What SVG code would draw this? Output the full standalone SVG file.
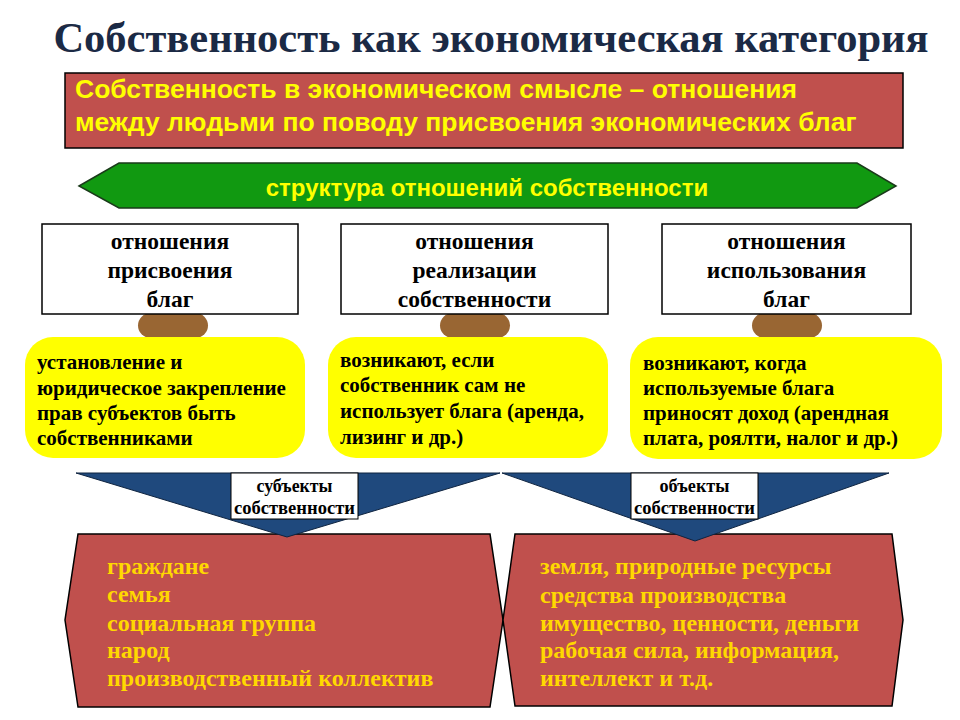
<svg xmlns="http://www.w3.org/2000/svg" width="960" height="720" viewBox="0 0 960 720">
<style>
.title{font-family:"Liberation Serif","Times New Roman",serif;font-weight:bold;font-size:42.5px;fill:#1B2A45;text-anchor:middle}
.hdr{font-family:"Liberation Sans",Arial,sans-serif;font-weight:bold;font-size:26.5px;fill:#FFFF00}
.grn{font-family:"Liberation Sans",Arial,sans-serif;font-weight:bold;font-size:24px;fill:#FFFF00}
.wb{fill:#FFFFFF;stroke:#000;stroke-width:1.5}
.wt{font-family:"Liberation Serif","Times New Roman",serif;font-weight:bold;font-size:23.5px;fill:#000;text-anchor:middle}
.br{fill:#996633}
.yb{fill:#FFFF00}
.yt{font-family:"Liberation Serif","Times New Roman",serif;font-weight:bold;font-size:21px;fill:#000}
.red{fill:#C0504D;stroke:#000;stroke-width:1.5}
.bt{font-family:"Liberation Serif","Times New Roman",serif;font-weight:bold;font-size:24px;fill:#FFD800}
.blue{fill:#1F497D;stroke:#0F2440;stroke-width:1}
.lb{fill:#FFFFFF;stroke:#000;stroke-width:1}
.lt{font-family:"Liberation Serif","Times New Roman",serif;font-weight:bold;font-size:19px;fill:#000;text-anchor:middle}
</style>
<rect width="960" height="720" fill="#FFFFFF"/>
<g id="title"><text class="title" x="491" y="52">Собственность как экономическая категория</text></g>
<g id="definition">
<rect x="65" y="73" width="838" height="75" class="red" stroke-width="2"/>
<text class="hdr" x="75" y="98">Собственность в экономическом смысле – отношения</text>
<text class="hdr" x="75" y="131">между людьми по поводу присвоения экономических благ</text>
</g>
<g id="structure">
<polygon points="79,186 119,163 857,163 896,186 857,208 119,208" fill="#119911" stroke="#1A3A1A" stroke-width="1.5"/>
<text class="grn" x="487" y="196" text-anchor="middle">структура отношений собственности</text>
</g>
<g id="brown">
<rect x="138" y="313" width="70" height="25" rx="12.5" class="br"/>
<rect x="440" y="313" width="70" height="25" rx="12.5" class="br"/>
<rect x="752" y="313" width="70" height="25" rx="12.5" class="br"/>
</g>
<g id="box-appropriation">
<rect x="42" y="224" width="256" height="90" class="wb"/>
<text class="wt" x="170" y="249">отношения</text>
<text class="wt" x="170" y="278">присвоения</text>
<text class="wt" x="170" y="307">благ</text>
</g>
<g id="box-realization">
<rect x="341" y="224" width="267" height="90" class="wb"/>
<text class="wt" x="474.5" y="249">отношения</text>
<text class="wt" x="474.5" y="278">реализации</text>
<text class="wt" x="474.5" y="307">собственности</text>
</g>
<g id="box-usage">
<rect x="662" y="224" width="249" height="90" class="wb"/>
<text class="wt" x="786.5" y="249">отношения</text>
<text class="wt" x="786.5" y="278">использования</text>
<text class="wt" x="786.5" y="307">благ</text>
</g>
<g id="note-appropriation">
<rect x="25" y="337" width="280" height="121" rx="28" class="yb"/>
<text class="yt" x="37" y="369">установление и</text>
<text class="yt" x="37" y="395">юридическое закрепление</text>
<text class="yt" x="37" y="420">прав субъектов быть</text>
<text class="yt" x="37" y="445">собственниками</text>
</g>
<g id="note-realization">
<rect x="328" y="337" width="280" height="121" rx="28" class="yb"/>
<text class="yt" x="340" y="367">возникают, если</text>
<text class="yt" x="340" y="392">собственник сам не</text>
<text class="yt" x="340" y="418">использует блага (аренда,</text>
<text class="yt" x="340" y="444">лизинг и др.)</text>
</g>
<g id="note-usage">
<rect x="630" y="337" width="312" height="122" rx="28" class="yb"/>
<text class="yt" x="643" y="370">возникают, когда</text>
<text class="yt" x="643" y="395">используемые блага</text>
<text class="yt" x="643" y="420">приносят доход (арендная</text>
<text class="yt" x="643" y="445">плата, роялти, налог и др.)</text>
</g>
<g id="subjects-list">
<polygon points="78,534 490,534 503,620 490,707 78,707 65,620" class="red"/>
<text class="bt" x="107" y="574">граждане</text>
<text class="bt" x="107" y="602">семья</text>
<text class="bt" x="107" y="631">социальная группа</text>
<text class="bt" x="107" y="658">народ</text>
<text class="bt" x="107" y="686">производственный коллектив</text>
</g>
<g id="objects-list">
<polygon points="515,534 892,534 903,620 892,706 515,706 503,620" class="red"/>
<text class="bt" x="540" y="574">земля, природные ресурсы</text>
<text class="bt" x="540" y="603">средства производства</text>
<text class="bt" x="540" y="631">имущество, ценности, деньги</text>
<text class="bt" x="540" y="658">рабочая сила, информация,</text>
<text class="bt" x="540" y="686">интеллект и т.д.</text>
</g>
<g id="connectors">
<polygon points="76,473 500,473 287,537" class="blue"/>
<polygon points="502,473 889,473 695,541" class="blue"/>
</g>
<g id="label-subjects">
<rect x="231" y="473" width="127" height="46" class="lb"/>
<text class="lt" x="294.5" y="492" textLength="76" lengthAdjust="spacingAndGlyphs">субъекты</text>
<text class="lt" x="294.5" y="514" textLength="121" lengthAdjust="spacingAndGlyphs">собственности</text>
</g>
<g id="label-objects">
<rect x="631" y="473" width="127" height="46" class="lb"/>
<text class="lt" x="694.5" y="492" textLength="70" lengthAdjust="spacingAndGlyphs">объекты</text>
<text class="lt" x="694.5" y="514" textLength="121" lengthAdjust="spacingAndGlyphs">собственности</text>
</g>
</svg>
